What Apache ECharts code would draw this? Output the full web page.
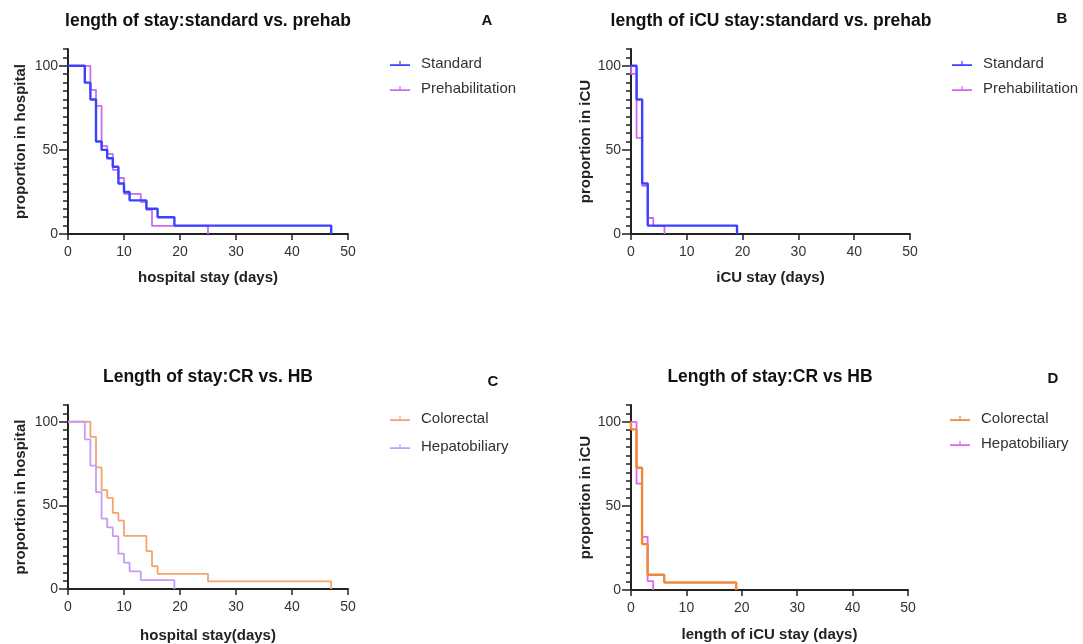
<!DOCTYPE html>
<html>
<head>
<meta charset="utf-8">
<script src="https://cdn.jsdelivr.net/npm/echarts@6/dist/echarts.min.js"></script>
<style>
html,body{margin:0;padding:0;background:#fff;}
#chart{width:1083px;height:644px;}
</style>
</head>
<body>
<div id="chart"></div>
<script>
// ---- Data (Kaplan-Meier steps: time in days, proportion %) ----
var xTicks = [0, 10, 20, 30, 40, 50];
var yTickLabels = [0, 50, 100];

// Panel A: hospital stay, standard vs prehab
var aStandardTimes = [0, 3, 4, 5, 6, 7, 8, 9, 10, 11, 14, 16, 19, 47];
var aStandardProp  = [100, 90, 80, 55, 50, 45, 40, 30, 25, 20, 15, 10, 5, 0];
var aPrehabTimes   = [0, 4, 5, 6, 7, 8, 9, 10, 13, 14, 15, 25];
var aPrehabProp    = [100, 85.7, 76.2, 52.4, 47.6, 38.1, 33.3, 23.8, 19.0, 14.3, 4.8, 0];

// Panel B: iCU stay, standard vs prehab
var bStandardTimes = [0, 1, 2, 3, 19];
var bStandardProp  = [100, 80, 30, 5, 0];
var bPrehabTimes   = [0, 0, 1, 2, 3, 4, 6];
var bPrehabProp    = [100, 95.2, 57.1, 28.6, 9.5, 4.8, 0];

// Panel C: hospital stay, colorectal vs hepatobiliary
var cColorectalTimes = [0, 4, 5, 6, 7, 8, 9, 10, 14, 15, 16, 25, 47];
var cColorectalProp  = [100, 90.9, 72.7, 59.1, 54.5, 45.5, 40.9, 31.8, 22.7, 13.6, 9.1, 4.5, 0];
var cHepatoTimes     = [0, 3, 4, 5, 6, 7, 8, 9, 10, 11, 13, 19];
var cHepatoProp      = [100, 89.5, 73.7, 57.9, 42.1, 36.8, 31.6, 21.1, 15.8, 10.5, 5.3, 0];

// Panel D: iCU stay, colorectal vs hepatobiliary
var dColorectalTimes = [0, 0, 1, 2, 3, 6, 19];
var dColorectalProp  = [100, 95.5, 72.7, 27.3, 9.1, 4.5, 0];
var dHepatoTimes     = [0, 1, 2, 3, 4];
var dHepatoProp      = [100, 63.2, 31.6, 5.3, 0];

var panelTitles = ['length of stay:standard vs. prehab', 'length of iCU stay:standard vs. prehab',
                   'Length of stay:CR vs. HB', 'Length of stay:CR vs HB'];
var panelLetters = ['A', 'B', 'C', 'D'];
var xNames = ['hospital stay (days)', 'iCU stay (days)', 'hospital stay(days)', 'length of iCU stay (days)'];
var yNames = ['proportion in hospital', 'proportion in iCU', 'proportion in hospital', 'proportion in iCU'];
// ---------------------------------------------------------------

function pairs(t, p) { return t.map(function (v, i) { return [v, p[i]]; }); }

var FONT = 'Liberation Sans, Arial, Helvetica, sans-serif';
var AX = '#222';

var grids = [
  {left: 68, top: 49, width: 280, height: 185},
  {left: 631, top: 49, width: 279, height: 185},
  {left: 68, top: 405, width: 280, height: 185},
  {left: 631, top: 405, width: 277, height: 185}
];
var titleCenters = [[208, 21], [771, 21], [208, 377], [770, 377]];
var letterPos = [[487, 21], [1062, 19], [493, 382], [1053, 379]];
var yNameGap = [40, 36, 40, 36];
var xNameGap = [36, 36, 39, 37];

var xAxes = [], yAxes = [];
grids.forEach(function (g, i) {
  xAxes.push({
    type: 'value', gridIndex: i, min: 0, max: 50, interval: 10,
    name: xNames[i], nameLocation: 'middle', nameGap: xNameGap[i],
    nameTextStyle: {fontFamily: FONT, fontSize: 15, fontWeight: 'bold', color: '#222'},
    axisLine: {show: true, onZero: false, lineStyle: {color: AX, width: 2}},
    axisTick: {show: true, length: 6, lineStyle: {color: AX, width: 1.5}},
    axisLabel: {fontFamily: FONT, fontSize: 14, color: '#333', margin: 11},
    splitLine: {show: false}
  });
  yAxes.push({
    type: 'value', gridIndex: i, position: 'left', min: 0, max: 110, interval: 5,
    name: yNames[i], nameLocation: 'middle', nameGap: yNameGap[i], nameRotate: 90,
    nameTextStyle: {fontFamily: FONT, fontSize: 15, fontWeight: 'bold', color: '#222'},
    axisLine: {show: true, onZero: false, lineStyle: {color: AX, width: 2}},
    axisTick: {show: true, inside: false, length: 5, lineStyle: {color: AX, width: 1.5}},
    axisLabel: {fontFamily: FONT, fontSize: 14, color: '#333', margin: 10,
      formatter: function (v) { return yTickLabels.indexOf(v) >= 0 ? String(v) : ''; }},
    splitLine: {show: false}
  });
  yAxes.push({
    type: 'value', gridIndex: i, position: 'left', offset: 0, min: 0, max: 110, interval: 50,
    axisLine: {show: false, onZero: false},
    axisTick: {show: true, inside: false, length: 9, customValues: yTickLabels, lineStyle: {color: AX, width: 1.5}},
    axisLabel: {show: false},
    splitLine: {show: false}
  });
});

function kmSeries(name, t, p, gi, color, width) {
  return {
    type: 'line', name: name, xAxisIndex: gi, yAxisIndex: gi * 2,
    step: 'end', showSymbol: false, symbol: 'none', silent: true,
    lineStyle: {color: color, width: width}, itemStyle: {color: color},
    data: pairs(t, p), z: width > 1.9 ? 3 : 2
  };
}

var C_BLUE = '#3a40ff', C_PRE = '#cc6cf2', C_PRE_B = '#d862f2';
var C_OR_C = '#f5a46c', C_HB_C = '#c99af5', C_OR_D = '#f08838', C_HB_D = '#e462f8';

var series = [
  kmSeries('Prehabilitation', aPrehabTimes, aPrehabProp, 0, C_PRE, 1.8),
  kmSeries('Standard', aStandardTimes, aStandardProp, 0, C_BLUE, 2.4),
  kmSeries('Prehabilitation', bPrehabTimes, bPrehabProp, 1, C_PRE_B, 1.8),
  kmSeries('Standard', bStandardTimes, bStandardProp, 1, C_BLUE, 2.4),
  kmSeries('Colorectal', cColorectalTimes, cColorectalProp, 2, C_OR_C, 1.8),
  kmSeries('Hepatobiliary', cHepatoTimes, cHepatoProp, 2, C_HB_C, 1.8),
  kmSeries('Hepatobiliary', dHepatoTimes, dHepatoProp, 3, C_HB_D, 1.8),
  kmSeries('Colorectal', dColorectalTimes, dColorectalProp, 3, C_OR_D, 2.4)
];

var ICON = 'path://M0,3.2 L20,3.2 L20,4.8 L0,4.8 Z M9.4,0 L10.6,0 L10.6,4 L9.4,4 Z';
function legend(left, top, names, colors, gap) {
  return {
    left: left, top: top, orient: 'vertical', itemGap: gap, padding: 0,
    itemWidth: 20, itemHeight: 6, icon: ICON, selectedMode: false,
    textStyle: {fontFamily: FONT, fontSize: 15, color: '#333', padding: [0, 0, 0, 6]},
    data: names.map(function (n, i) { return {name: n, icon: ICON, itemStyle: {color: colors[i]}}; })
  };
}

var graphics = [];
panelTitles.forEach(function (t, i) {
  graphics.push({type: 'text', x: titleCenters[i][0], y: titleCenters[i][1],
    style: {text: t, fontFamily: FONT, fontSize: 17.5, fontWeight: 'bold', fill: '#111',
      textAlign: 'center', textVerticalAlign: 'middle', align: 'center', verticalAlign: 'middle'}});
  graphics.push({type: 'text', x: letterPos[i][0], y: letterPos[i][1],
    style: {text: panelLetters[i], fontFamily: FONT, fontSize: 15, fontWeight: 'bold', fill: '#111',
      textAlign: 'center', textVerticalAlign: 'middle', align: 'center', verticalAlign: 'middle'}});
});

var option = {
  backgroundColor: '#fff',
  animation: false,
  grid: grids,
  xAxis: xAxes,
  yAxis: yAxes,
  legend: [
    legend(390, 56, ['Standard', 'Prehabilitation'], [C_BLUE, C_PRE], 10),
    legend(952, 56, ['Standard', 'Prehabilitation'], [C_BLUE, C_PRE_B], 10),
    legend(390, 411, ['Colorectal', 'Hepatobiliary'], [C_OR_C, C_HB_C], 13),
    legend(950, 411, ['Colorectal', 'Hepatobiliary'], [C_OR_D, C_HB_D], 10)
  ],
  graphic: graphics,
  series: series
};

var chart = echarts.init(document.getElementById('chart'), null, {renderer: 'canvas'});
chart.setOption(option);
</script>
</body>
</html>
